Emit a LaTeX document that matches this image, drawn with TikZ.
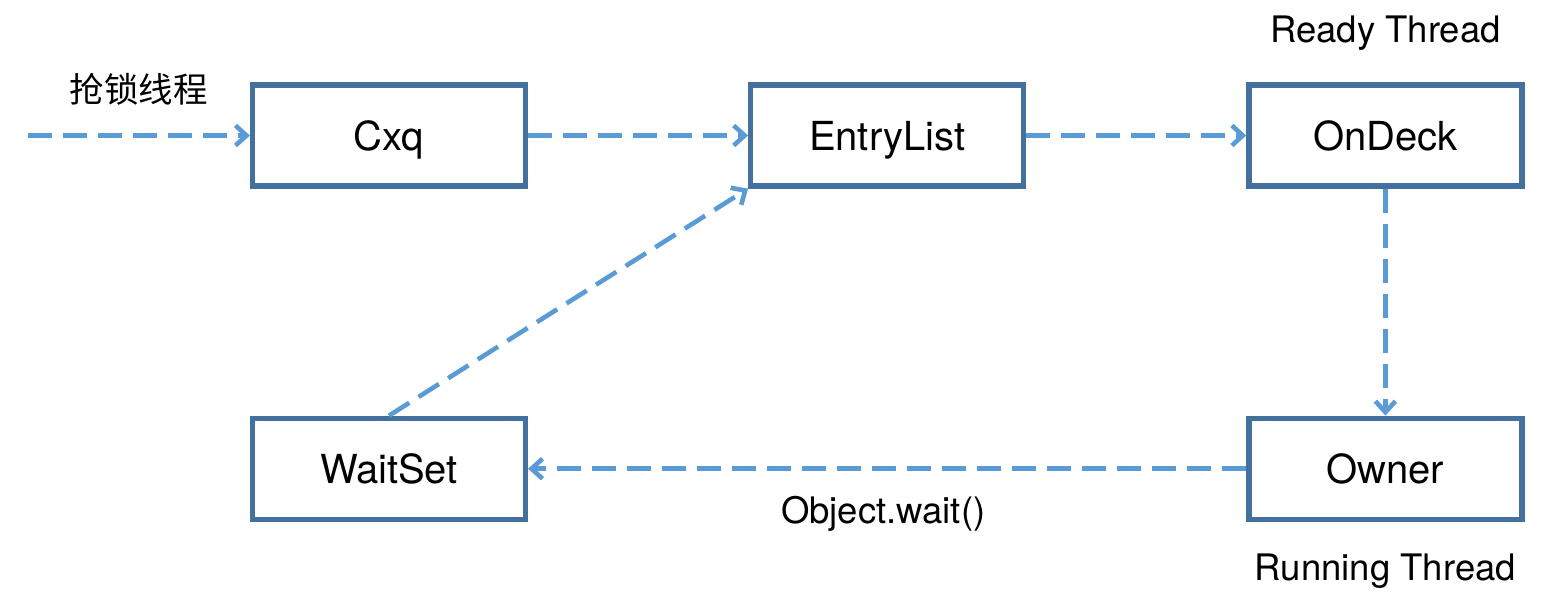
\documentclass[tikz,border=0pt]{standalone}
\usepackage{fontspec}
\setmainfont{TeX Gyre Heros}
\newfontfamily\cjk{Noto Sans CJK SC}
\usepackage{xcolor}
\usepackage{tikz}
\usetikzlibrary{positioning}
\usetikzlibrary{arrows.meta}
\definecolor{boxblue}{RGB}{68,112,157}
\definecolor{flowblue}{RGB}{91,155,213}
\tikzset{%
  queuebox/.style={rectangle,draw=boxblue,line width=2.6pt,minimum width=136.5pt,minimum height=50.5pt,inner sep=0pt,text height=18pt,text depth=3.5pt,font=\fontsize{20}{24}\selectfont}
}
\tikzset{%
  flowarr/.style={draw=flowblue,line width=2.3pt,dash pattern=on 12pt off 5.5pt,-{Straight Barb[length=5.5pt,width=10pt,line width=2.3pt]}}
}
\tikzset{%
  tagtext/.style={inner sep=0pt,font=\fontsize{18.25}{22}\selectfont}
}

\begin{document}
\begin{tikzpicture}[node distance=113.5pt and 110pt]
        \useasboundingbox (0pt,0pt) rectangle (772pt,-301pt);
        \node[queuebox](cxq) at (194.5pt,-67.75pt){Cxq};
        \node[queuebox,right=of cxq](entrylist){EntryList};
        \node[queuebox,right=of entrylist](ondeck){OnDeck};
        \node[queuebox,below=of cxq](waitset){WaitSet};
        \node[queuebox,below=of ondeck](owner){Owner};
        \coordinate[left=111pt of cxq.west](start);

        \draw[flowarr](start) -- node[tagtext,yshift=23.25pt]{\cjk\fontsize{17.25}{21}\selectfont 抢锁线程} (cxq.west);
        \draw[flowarr](cxq) -- (entrylist);
        \draw[flowarr](entrylist) -- (ondeck);
        \draw[flowarr](ondeck) -- (owner);
        \draw[flowarr](owner) -- node[tagtext,yshift=-22.5pt,xshift=-2pt]{Object.wait()} (waitset);
        \draw[flowarr](waitset.north) -- (entrylist.south west);

        \node[tagtext](readylabel) at ([yshift=24.5pt]ondeck.north){Ready Thread};
        \node[tagtext](runlabel) at ([yshift=-24.5pt]owner.south){Running Thread};
      \end{tikzpicture}
\end{document}
